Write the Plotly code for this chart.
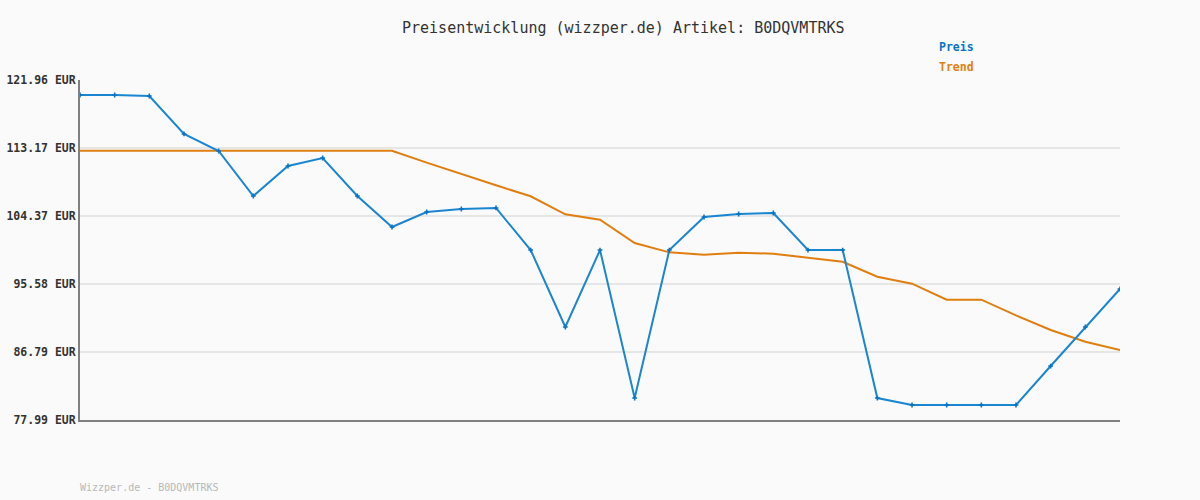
import plotly.graph_objects as go

x_idx = list(range(31))
preis = [120.02, 120.02, 119.89, 114.98, 112.78, 106.96, 110.84, 111.87, 106.96, 102.95,
         104.89, 105.28, 105.41, 99.97, 90.02, 99.97, 80.83, 99.97, 104.24, 104.63,
         104.76, 99.97, 99.97, 80.83, 79.93, 79.93, 79.93, 79.93, 84.97, 90.02, 94.93]
trend = [112.80, 112.80, 112.80, 112.80, 112.80, 112.80, 112.80, 112.80, 112.80, 112.80,
         111.27, 109.76, 108.34, 106.92, 104.59, 103.89, 100.88, 99.67, 99.37, 99.63,
         99.50, 98.98, 98.46, 96.52, 95.62, 93.55, 93.55, 91.53, 89.63, 88.12, 87.04]
y_ticks = [77.99, 86.79, 95.58, 104.37, 113.17, 121.96]
y_tick_labels = ["77.99 EUR", "86.79 EUR", "95.58 EUR", "104.37 EUR", "113.17 EUR", "121.96 EUR"]

title_text = "Preisentwicklung (wizzper.de) Artikel: B0DQVMTRKS"
footer_text = "Wizzper.de - B0DQVMTRKS"

BLUE = "#1a86d0"
BLUE_M = "#0a74c4"
ORANGE = "#e07f10"
FONT = "DejaVu Sans Mono"

fig = go.Figure()
fig.add_trace(go.Scatter(x=x_idx, y=trend, mode="lines", name="Trend",
                         line=dict(color=ORANGE, width=2), hoverinfo="skip"))
fig.add_trace(go.Scatter(x=x_idx, y=preis, mode="lines+markers", name="Preis",
                         line=dict(color=BLUE, width=2),
                         marker=dict(symbol="cross", size=4, color=BLUE_M)))

fig.update_layout(
    width=1200, height=500, autosize=False,
    margin=dict(l=80, r=80, t=80, b=80, autoexpand=False),
    paper_bgcolor="#fafafa", plot_bgcolor="#fafafa",
    showlegend=False,
    font=dict(family=FONT, color="#333333"),
    xaxis=dict(range=[0, 30], showgrid=False, zeroline=False, showticklabels=False,
               ticks="", showline=True, linecolor="#808080", linewidth=2, automargin=False),
    yaxis=dict(range=[77.99, 121.96], tickvals=y_ticks, ticktext=y_tick_labels,
               showgrid=True, gridcolor="#e6e6e6", gridwidth=2, zeroline=False,
               showline=True, linecolor="#808080", linewidth=2, ticks="",
               tickfont=dict(family=FONT, size=11.5, color="#333333", weight="bold"),
               ticklabelstandoff=0, automargin=False),
)

fig.add_annotation(text=title_text, xref="paper", yref="paper", x=0.523, y=1.0,
                   yshift=52, xanchor="center", yanchor="middle", showarrow=False,
                   font=dict(family=FONT, size=15, color="#333333"))
fig.add_annotation(text="<b>Preis</b>", xref="paper", yref="paper",
                   x=(937 - 80) / 1040, y=1.0, yshift=33, xanchor="left", yanchor="middle",
                   showarrow=False, font=dict(family=FONT, size=11.5, color=BLUE_M))
fig.add_annotation(text="<b>Trend</b>", xref="paper", yref="paper",
                   x=(937 - 80) / 1040, y=1.0, yshift=13, xanchor="left", yanchor="middle",
                   showarrow=False, font=dict(family=FONT, size=11.5, color=ORANGE))
fig.add_annotation(text=footer_text, xref="paper", yref="paper", x=0, y=0,
                   xshift=-2, yshift=-67, xanchor="left", yanchor="middle", showarrow=False,
                   font=dict(family=FONT, size=10, color="#b8b8b8"))

fig.write_html("out.html", config={"displayModeBar": False},
               post_script="document.body.style.margin='0px';document.body.style.overflow='hidden';document.body.style.background='#fafafa';")
